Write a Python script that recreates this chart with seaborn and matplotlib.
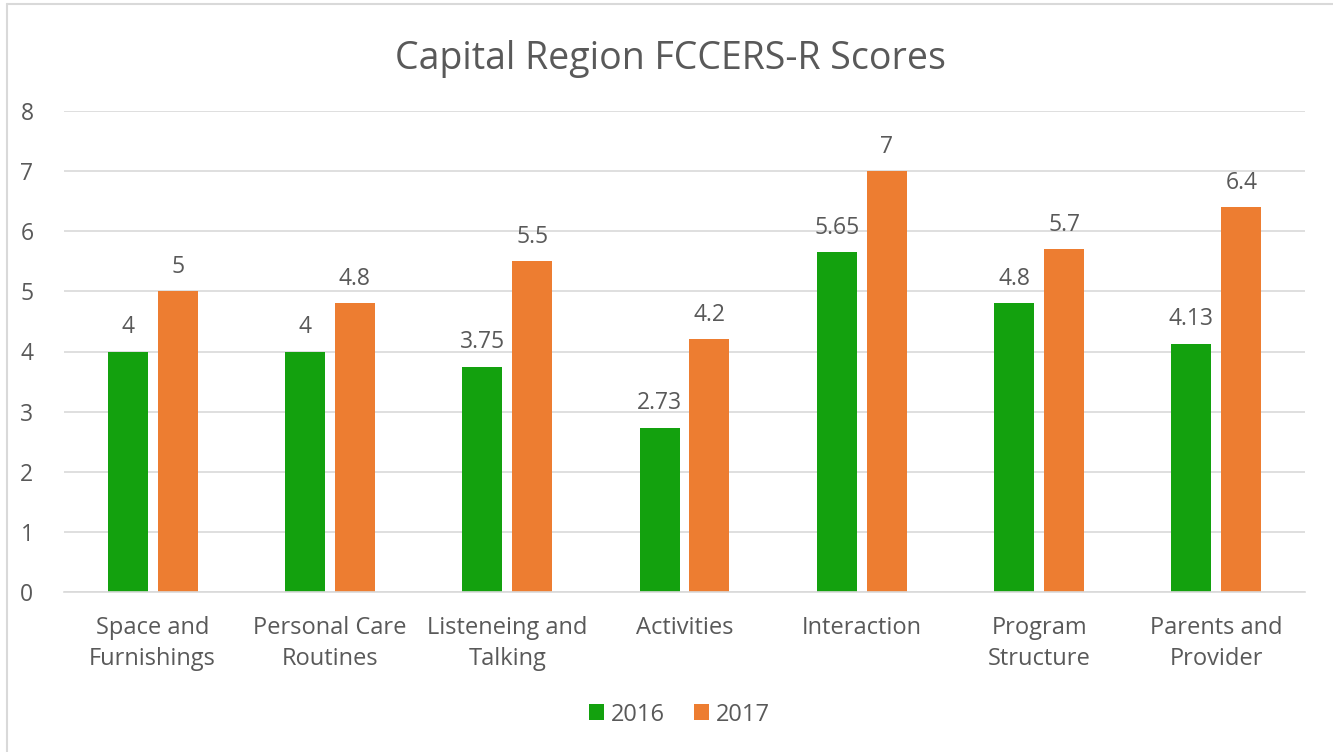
import pandas as pd
import matplotlib.pyplot as plt
from matplotlib.lines import Line2D
import seaborn as sns

# data
categories = ['Space and\nFurnishings', 'Personal Care\nRoutines', 'Listeneing and\nTalking',
              'Activities', 'Interaction', 'Program\nStructure', 'Parents and\nProvider']
scores_2016 = [4, 4, 3.75, 2.73, 5.65, 4.8, 4.13]
scores_2017 = [5, 4.8, 5.5, 4.2, 7, 5.7, 6.4]
years = ['2016', '2017']

df = pd.DataFrame({
    'category': categories * 2,
    'score': scores_2016 + scores_2017,
    'year': [years[0]] * len(categories) + [years[1]] * len(categories),
})

sns.set_theme(style="white")
plt.rcParams['font.family'] = ['Open Sans', 'DejaVu Sans']
txt = '#595959'

fig = plt.figure(figsize=(13.33, 7.52), dpi=100)
ax = fig.add_axes([64 / 1333, 1 - 592 / 752, (1305 - 64) / 1333, (592 - 111) / 752])

sns.barplot(data=df, x='category', y='score', hue='year', order=categories,
            palette=['#13A10E', '#ED7D31'], saturation=1, width=0.564, gap=0.2,
            edgecolor='none', ax=ax, legend=True)

for cont in ax.containers:
    ax.bar_label(cont, fmt='%g', padding=9, fontsize=16.5, color=txt)

ax.set_ylim(0, 8)
ax.set_yticks(range(0, 9))
ax.grid(axis='y', color='#D9D9D9', linewidth=1.2)
ax.set_axisbelow(True)
for s in ['left', 'right', 'top']:
    ax.spines[s].set_visible(False)
ax.spines['bottom'].set_color('#D9D9D9')
ax.spines['bottom'].set_linewidth(1.2)
ax.tick_params(axis='both', length=0, labelsize=16.5, labelcolor=txt)
ax.tick_params(axis='x', labelsize=17, pad=17)
ax.tick_params(axis='y', pad=22)
for lbl in ax.get_xticklabels():
    lbl.set_linespacing(1.4)
ax.set_xlabel('')
ax.set_ylabel('')

ax.set_title('Capital Region FCCERS-R Scores', fontsize=27, color=txt, pad=30, x=0.4885)

ax.legend(loc='center', bbox_to_anchor=(0.496, -0.255), ncol=2, frameon=False,
          fontsize=17, labelcolor=txt, handlelength=0.65, handleheight=0.65,
          handletextpad=0.3, columnspacing=1.2)

# chart frame (only left and top edges visible in the reference)
fig.add_artist(Line2D([7 / 1333, 7 / 1333], [0, 1 - 4 / 752], color='#D9D9D9', lw=1.5))
fig.add_artist(Line2D([7 / 1333, 1], [1 - 4 / 752, 1 - 4 / 752], color='#D9D9D9', lw=1.5))

fig.savefig('out.png', dpi=100, facecolor='white')
